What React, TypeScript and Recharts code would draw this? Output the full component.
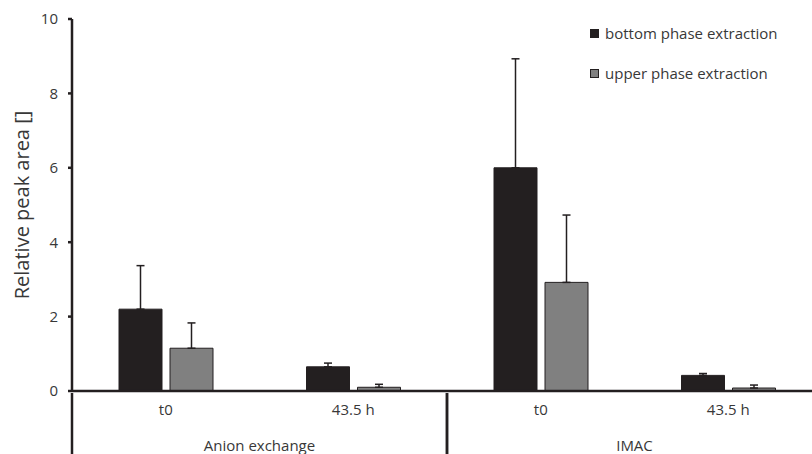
import { Bar, BarChart, ErrorBar, Label, Legend, XAxis, YAxis } from "recharts";

const groups = ["Anion exchange", "IMAC"];
const times = ["t0", "43.5 h", "t0", "43.5 h"];
const bottomPhase = [2.2, 0.65, 6.0, 0.42];
const bottomPhaseErr = [1.17, 0.1, 2.93, 0.05];
const upperPhase = [1.15, 0.1, 2.92, 0.08];
const upperPhaseErr = [0.68, 0.08, 1.81, 0.08];
const yTicks = [0, 2, 4, 6, 8, 10];

const data = times.map((time, i) => ({
  time,
  group: groups[Math.floor(i / 2)],
  bottom: bottomPhase[i],
  bottomErr: [0, bottomPhaseErr[i]],
  upper: upperPhase[i],
  upperErr: [0, upperPhaseErr[i]],
}));

const W = 822;
const H = 454;
const Y_AXIS_W = 72;
const X_AXIS_H = 63;
const INK = "#231f20";
const TEXT = "#383838";
const FONT = "'Open Sans', sans-serif";
const band = (W - Y_AXIS_W) / times.length;

function CategoryTick(props: any) {
  const { x, y, payload, index } = props;
  const row = data[index];
  const startsGroup = index === 0 || data[index - 1].group !== row.group;
  const endsGroup = index === data.length - 1 || data[index + 1].group !== row.group;
  return (
    <g>
      <text x={x} y={y + 22} textAnchor="middle" fill={TEXT} fontSize={15} fontFamily={FONT}>
        {payload.value}
      </text>
      {startsGroup && (
        <>
          <line x1={x - band / 2} x2={x - band / 2} y1={y} y2={y + X_AXIS_H} stroke={INK} strokeWidth={2.5} />
          <text x={x + band / 2} y={y + 58} textAnchor="middle" fill={TEXT} fontSize={15} fontFamily={FONT}>
            {row.group}
          </text>
        </>
      )}
      {endsGroup && (
        <line x1={x + band / 2} x2={x + band / 2} y1={y} y2={y + X_AXIS_H} stroke={INK} strokeWidth={2.5} />
      )}
    </g>
  );
}

function LegendBox({ payload }: any) {
  return (
    <div style={{ fontFamily: FONT, fontSize: 15, color: TEXT }}>
      {(payload || []).map((item: any, i: number) => (
        <div key={item.value} style={{ display: "flex", alignItems: "center", height: 20, marginBottom: i === 0 ? 20 : 0 }}>
          <span
            style={{
              width: 7,
              height: 7,
              background: item.color,
              border: `1px solid ${INK}`,
              marginRight: 6,
              display: "inline-block",
            }}
          />
          <span>{item.value}</span>
        </div>
      ))}
    </div>
  );
}

export default function App() {
  return (
    <div style={{ position: "absolute", left: 0, top: 0, width: 812, height: 454, overflow: "hidden", background: "#fff" }}>
      <BarChart width={W} height={H} data={data} margin={{ top: 19, right: 0, bottom: 0, left: 0 }} barSize={43} barGap={8}>
        <XAxis
          dataKey="time"
          height={X_AXIS_H}
          tickLine={false}
          tickSize={0}
          axisLine={{ stroke: INK, strokeWidth: 2.5 }}
          tick={<CategoryTick />}
          interval={0}
        />
        <YAxis
          width={Y_AXIS_W}
          domain={[0, 10]}
          ticks={yTicks}
          tickSize={4}
          tickMargin={10}
          tickLine={{ stroke: INK, strokeWidth: 2.5 }}
          axisLine={{ stroke: INK, strokeWidth: 2.5 }}
          tick={{ fill: TEXT, fontSize: 15, fontFamily: FONT }}
        >
          <Label
            value="Relative peak area []"
            angle={-90}
            position="insideLeft"
            offset={22}
            style={{ textAnchor: "middle", fill: TEXT, fontSize: 20, fontFamily: FONT }}
          />
        </YAxis>
        <Legend
          layout="vertical"
          align="center"
          verticalAlign="middle"
          content={<LegendBox />}
          wrapperStyle={{ left: 590, top: 23, width: 220, height: 70 }}
        />
        <Bar dataKey="bottom" name="bottom phase extraction" fill={INK} stroke={INK} strokeWidth={1} isAnimationActive={false}>
          <ErrorBar dataKey="bottomErr" direction="y" width={4} stroke={INK} strokeWidth={1.5} />
        </Bar>
        <Bar dataKey="upper" name="upper phase extraction" fill="#808080" stroke={INK} strokeWidth={1} isAnimationActive={false}>
          <ErrorBar dataKey="upperErr" direction="y" width={4} stroke={INK} strokeWidth={1.5} />
        </Bar>
      </BarChart>
    </div>
  );
}
